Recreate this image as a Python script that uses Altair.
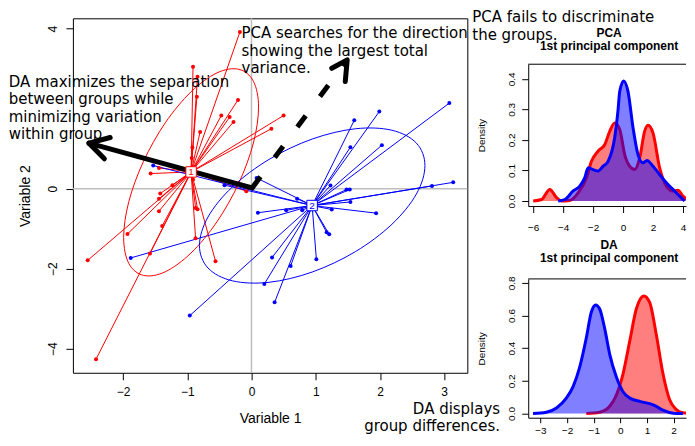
import altair as alt
import pandas as pd

# ---------------- main scatter: observations of group 1 (red) and group 2 (blue)
red_x = [-0.18, -0.91, -0.84, -0.85, -0.21, -0.47, -0.34, -0.28, 0.50, 0.31, -0.80, -0.92, -0.93, -1.44, -1.57,
         -1.23, -1.42, -1.44, -1.44, -1.39, -1.93, -1.58, -2.55, -2.42, -0.56, -0.87, -0.87, -0.84, -0.91, -0.08]
red_y = [3.92, 3.05, 2.80, 2.30, 2.22, 1.83, 1.79, 1.67, 1.83, 1.50, 1.42, 1.03, 0.77, 0.52, 0.38,
         0.09, -0.12, -0.25, -0.56, -0.93, -1.13, -1.62, -1.79, -4.26, -1.81, -1.24, -0.48, -0.51, 0.23, -0.06]
blue_x = [3.08, 1.99, 1.60, 1.54, 2.03, 3.14, 2.81, 1.23, 1.48, 1.53, 1.54, 1.94, 1.25, 1.17, 1.21,
          1.01, 0.61, 0.32, 0.20, 0.36, -0.96, -1.88, 0.10, 0.54, 0.79, 0.71, 0.08, -0.42, -1.53]
blue_y = [2.14, 1.93, 1.71, 1.04, 1.09, 0.16, 0.07, 0.08, -0.02, -0.02, -0.33, -0.61, -0.52, -1.09, -1.14,
          -1.76, -1.93, -1.72, -2.38, -2.84, -3.17, -1.73, -0.60, -0.54, -0.54, -0.25, 0.27, 0.09, 0.58]

groups = ["1", "2"]
group_colors = ["#FF0000", "#0000FF"]
centroid_x = [-0.94, 0.944]
centroid_y = [0.42, -0.42]

# ellipse outlines (points read around each ellipse)
ell_red_x = [0.11, 0.03, -0.198, -0.538, -0.94, -1.342, -1.682, -1.910, -1.99, -1.910, -1.682, -1.342, -0.94, -0.538, -0.198, 0.03]
ell_red_y = [2.039, 2.686, 2.986, 2.895, 2.424, 1.647, 0.682, -0.324, -1.219, -1.866, -2.166, -2.075, -1.604, -0.827, 0.138, 1.144]
ell_blue_x = [2.70, 2.567, 2.186, 1.617, 0.945, 0.273, -0.296, -0.677, -0.81, -0.677, -0.296, 0.273, 0.945, 1.617, 2.186, 2.567]
ell_blue_y = [0.58, 1.141, 1.462, 1.499, 1.242, 0.733, 0.048, -0.707, -1.42, -1.981, -2.302, -2.339, -2.082, -1.573, -0.888, -0.133]

# arrows: DA direction (solid) and PCA direction (dashed)
da_arrow_x = [0.01, -2.53]
da_arrow_y = [0.02, 1.14]
da_head_x = [-2.20, -2.53, -2.29]
da_head_y = [1.28, 1.14, 0.75]
pca_arrow_x = [0.01, 1.49]
pca_arrow_y = [0.02, 3.22]
pca_head_x = [1.25, 1.49, 1.46]
pca_head_y = [3.01, 3.22, 2.68]

# annotations
note_left = ["DA maximizes the separation", "between groups while", "minimizing variation", "within group.",
             "PCA searches for the direction", "showing the largest total", "variance.",
             "PCA fails to discriminate", "the groups."]
note_left_x = [-3.779, -3.779, -3.779, -3.779, -0.155, -0.155, -0.155, 3.437, 3.437]
note_left_y = [2.54, 2.11, 1.67, 1.24, 3.77, 3.33, 2.89, 4.165, 3.725]
note_right = ["DA displays", "group differences."]
note_right_x = [3.87, 3.87]
note_right_y = [-5.633, -6.065]

# ---------------- density panels
pca_red_x = [-6.0, -5.44, -4.89, -4.44, -4.11, -3.56, -3.0, -2.44, -2.11, -1.67, -1.22, -0.89, -0.56, -0.22,
             0.11, 0.44, 0.78, 1.11, 1.44, 1.67, 2.0, 2.44, 2.89, 3.33, 3.67, 4.0, 4.44]
pca_red_d = [0.0, 0.005, 0.038, 0.011, 0.0, 0.002, 0.027, 0.076, 0.13, 0.163, 0.185, 0.228, 0.255, 0.234,
             0.152, 0.114, 0.103, 0.141, 0.228, 0.248, 0.223, 0.109, 0.049, 0.033, 0.035, 0.016, 0.0]
pca_blue_x = [-4.33, -3.89, -3.33, -2.89, -2.56, -2.33, -2.0, -1.67, -1.33, -1.0, -0.56, -0.33, -0.22, 0.04,
              0.33, 0.67, 1.0, 1.33, 1.6, 2.0, 2.44, 2.89, 3.33, 3.78, 4.11]
pca_blue_d = [0.0, 0.005, 0.033, 0.049, 0.076, 0.109, 0.103, 0.098, 0.114, 0.13, 0.207, 0.30, 0.359, 0.393,
              0.359, 0.239, 0.152, 0.125, 0.133, 0.114, 0.087, 0.06, 0.038, 0.016, 0.0]

da_red_x = [-1.28, -0.78, -0.4, -0.15, 0.1, 0.35, 0.6, 0.88, 1.1, 1.35, 1.6, 1.85, 2.1, 2.35, 2.73]
da_red_d = [0.0, 0.008, 0.044, 0.113, 0.243, 0.442, 0.641, 0.72, 0.68, 0.482, 0.243, 0.084, 0.024, 0.004, 0.0]
da_blue_x = [-3.28, -2.78, -2.4, -2.03, -1.78, -1.53, -1.28, -1.09, -0.93, -0.78, -0.59, -0.4, -0.15, 0.1,
             0.35, 0.73, 1.1, 1.35, 1.6, 1.98, 2.35]
da_blue_d = [0.0, 0.008, 0.034, 0.094, 0.163, 0.282, 0.462, 0.621, 0.665, 0.641, 0.521, 0.362, 0.223, 0.133,
             0.094, 0.074, 0.06, 0.044, 0.02, 0.002, 0.0]

# ======================================================================
AX_FONT = "Liberation Sans"
dummy = pd.DataFrame({"k": [0]})
gscale = alt.Scale(domain=groups, range=group_colors)

xs = alt.Scale(domain=[-2.78, 3.36], nice=False, zero=False)
ys = alt.Scale(domain=[-4.6, 4.26], nice=False, zero=False)
xax = alt.Axis(values=[-2, -1, 0, 1, 2, 3], format="d", title="Variable 1", grid=False, domain=False,
               tickColor="black", tickSize=7, labelFont=AX_FONT, labelFontSize=12, labelColor="black",
               labelPadding=7, labelFlush=False, labelOverlap=False, titleFont=AX_FONT, titleFontSize=14,
               titleFontWeight="normal", titleColor="black", titlePadding=14)
yax = alt.Axis(values=[-4, -2, 0, 4], format="d", title="Variable 2", grid=False, domain=False,
               tickColor="black", tickSize=7, labelFont=AX_FONT, labelFontSize=12, labelColor="black",
               labelAngle=270, labelAlign="center", labelBaseline="bottom", labelPadding=6,
               labelFlush=False, labelOverlap=False, titleFont=AX_FONT, titleFontSize=14,
               titleFontWeight="normal", titleColor="black", titlePadding=14)


def X(f):
    return alt.X(f, type="quantitative", scale=xs, axis=xax)


def Y(f):
    return alt.Y(f, type="quantitative", scale=ys, axis=yax)


rows = []
for x, y in zip(red_x, red_y):
    rows.append({"x": x, "y": y, "g": "1", "cx": centroid_x[0], "cy": centroid_y[0]})
for x, y in zip(blue_x, blue_y):
    rows.append({"x": x, "y": y, "g": "2", "cx": centroid_x[1], "cy": centroid_y[1]})
pts = pd.DataFrame(rows)

ell = pd.DataFrame(
    [{"ex": a, "ey": b, "g": "1", "i": i} for i, (a, b) in enumerate(zip(ell_red_x, ell_red_y))]
    + [{"ex": a, "ey": b, "g": "2", "i": i} for i, (a, b) in enumerate(zip(ell_blue_x, ell_blue_y))]
)
cent = pd.DataFrame({"cx": centroid_x, "cy": centroid_y, "g": groups})
shaft_da = pd.DataFrame({"x0": [da_arrow_x[0]], "y0": [da_arrow_y[0]], "x1": [da_arrow_x[1]], "y1": [da_arrow_y[1]]})
shaft_pca = pd.DataFrame({"x0": [pca_arrow_x[0]], "y0": [pca_arrow_y[0]], "x1": [pca_arrow_x[1]], "y1": [pca_arrow_y[1]]})
heads = pd.DataFrame(
    [{"hx": a, "hy": b, "a": "da", "i": i} for i, (a, b) in enumerate(zip(da_head_x, da_head_y))]
    + [{"hx": a, "hy": b, "a": "pca", "i": i} for i, (a, b) in enumerate(zip(pca_head_x, pca_head_y))]
)
notes_l = pd.DataFrame({"x": note_left_x, "y": note_left_y, "t": note_left})
notes_r = pd.DataFrame({"x": note_right_x, "y": note_right_y, "t": note_right})

col = alt.Color("g:N", scale=gscale, legend=None)

vline = alt.Chart(dummy).mark_rule(color="#BEBEBE", strokeWidth=1.5).encode(
    x=alt.XDatum(0, type="quantitative", scale=xs, axis=xax))
hline = alt.Chart(dummy).mark_rule(color="#BEBEBE", strokeWidth=1.5).encode(
    y=alt.YDatum(0, type="quantitative", scale=ys, axis=yax))
spider = alt.Chart(pts).mark_rule(strokeWidth=1).encode(
    x=X("cx"), y=Y("cy"), x2=alt.X2("x"), y2=alt.Y2("y"), color=col)
dots = alt.Chart(pts).mark_circle(size=16, opacity=1).encode(x=X("x"), y=Y("y"), color=col)
ellipses = alt.Chart(ell).mark_line(strokeWidth=1, interpolate="cardinal-closed").encode(
    x=X("ex"), y=Y("ey"), color=col, order="i:Q")
arrow_da = alt.Chart(shaft_da).mark_rule(color="black", strokeWidth=5, strokeCap="round").encode(
    x=X("x0"), y=Y("y0"), x2=alt.X2("x1"), y2=alt.Y2("y1"))
arrow_pca = alt.Chart(shaft_pca).mark_rule(color="black", strokeWidth=5, strokeCap="butt",
                                           strokeDash=[14, 24]).encode(
    x=X("x0"), y=Y("y0"), x2=alt.X2("x1"), y2=alt.Y2("y1"))
arrow_heads = alt.Chart(heads).mark_line(color="black", strokeWidth=5, strokeCap="round",
                                         strokeJoin="round").encode(
    x=X("hx"), y=Y("hy"), detail="a:N", order="i:Q")
boxes = alt.Chart(cent).mark_square(size=110, fill="white", fillOpacity=1, strokeWidth=1, opacity=1).encode(
    x=X("cx"), y=Y("cy"), stroke=alt.Stroke("g:N", scale=gscale, legend=None))
box_labels = alt.Chart(cent).mark_text(font=AX_FONT, fontSize=10, align="center", baseline="middle").encode(
    x=X("cx"), y=Y("cy"), text="g:N", color=col)
txt_l = alt.Chart(notes_l).mark_text(font="DejaVu Sans", fontSize=15, align="left", baseline="alphabetic",
                                     color="black").encode(x=X("x"), y=Y("y"), text="t:N")
txt_r = alt.Chart(notes_r).mark_text(font="DejaVu Sans", fontSize=15, align="right", baseline="alphabetic",
                                     color="black").encode(x=X("x"), y=Y("y"), text="t:N")

main = alt.layer(vline, hline, spider, dots, ellipses, arrow_da, arrow_pca, arrow_heads, boxes, box_labels,
                 txt_l, txt_r).properties(
    width=395, height=355,
    view=alt.ViewBackground(stroke="black", strokeWidth=1, strokeOpacity=1))

PANEL_W = 158


def dens_panel(title_top, rx, rd, bx, bd, xdom, ydom, xticks, yticks, h, tick_len, lab_pad):
    sx = alt.Scale(domain=xdom, nice=False, zero=False)
    sy = alt.Scale(domain=ydom, nice=False, zero=False)
    xa = alt.Axis(values=xticks, format="d", title=None, grid=False, domain=True, domainColor="black",
                  domainWidth=1, tickColor="black", tickSize=tick_len, labelFont=AX_FONT, labelFontSize=10,
                  labelColor="black", labelPadding=lab_pad, labelFlush=False, labelOverlap=False)
    ya = alt.Axis(values=yticks, format=".1f", title="Density", grid=False, domain=True, domainColor="black",
                  domainWidth=1, tickColor="black", tickSize=6.5, labelFont=AX_FONT, labelFontSize=10,
                  labelColor="black", labelAngle=270, labelAlign="center", labelBaseline="bottom",
                  labelPadding=5, labelFlush=False, labelOverlap=False, titleFont=AX_FONT, titleFontSize=10,
                  titleFontWeight="normal", titleColor="black", titlePadding=20)
    dr = pd.DataFrame({"x": rx, "d": rd})
    db = pd.DataFrame({"x": bx, "d": bd})
    ex = alt.X("x:Q", scale=sx, axis=xa)
    ey = alt.Y("d:Q", scale=sy, axis=ya)
    layers = []
    for df, c in ((dr, "#FF0000"), (db, "#0000FF")):
        layers.append(alt.Chart(df).mark_area(color=c, opacity=0.5, interpolate="monotone", clip=True).encode(
            x=ex, y=ey, y2=alt.Y2Datum(0)))
        layers.append(alt.Chart(df).mark_line(color=c, strokeWidth=3, interpolate="monotone", clip=True).encode(
            x=ex, y=ey))
    layers.append(alt.Chart(dummy).mark_rule(color="black", strokeWidth=1).encode(
        y=alt.YDatum(ydom[1], type="quantitative", scale=sy, axis=ya)))
    return alt.layer(*layers).properties(
        width=PANEL_W, height=h,
        title=alt.TitleParams(text=[title_top, "1st principal component"], font=AX_FONT, fontSize=12,
                              fontWeight="bold", color="black", anchor="middle", lineHeight=13, offset=11, dx=2))


pca_panel = dens_panel("PCA", pca_red_x, pca_red_d, pca_blue_x, pca_blue_d,
                       [-6.33, -6.33 + PANEL_W / 15.0], [-0.0163, 0.4476],
                       [-6, -4, -2, 0, 2, 4], [0.0, 0.1, 0.2, 0.3, 0.4], 142, 6.5, 10)
da_panel = dens_panel("DA", da_red_x, da_red_d, da_blue_x, da_blue_d,
                      [-3.46, -3.46 + PANEL_W / 26.67], [-0.026, 0.824],
                      [-3, -2, -1, 0, 1, 2], [0.0, 0.2, 0.4, 0.6, 0.8], 139, 5, 3)

spacer = alt.Chart(dummy).mark_point(opacity=0).properties(width=PANEL_W, height=46)

right_inner = alt.vconcat(pca_panel, da_panel, spacing=73, bounds="flush")
right_col = alt.vconcat(spacer, right_inner, spacing=0, bounds="flush")

chart = alt.hconcat(main, right_col, spacing=61, bounds="flush").properties(
    padding={"left": 0, "top": 1, "right": 0, "bottom": 0},
    background="white").configure_view(strokeOpacity=0)

chart.save("out.html", embed_options={"renderer": "svg", "actions": False})
